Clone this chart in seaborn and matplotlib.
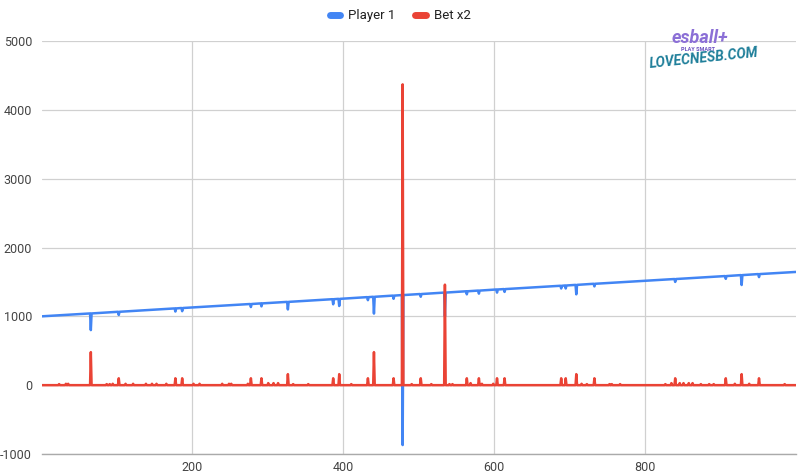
import matplotlib
matplotlib.use("Agg")
import matplotlib.pyplot as plt
from matplotlib.lines import Line2D
import seaborn as sns
import pandas as pd

# ---- data ----
series_names = ["Player 1", "Bet x2"]
colors = ["#4285F4", "#EA4335"]

# Bet x2 spikes: position and height (zero elsewhere)
bet_x = [24, 33, 36, 66, 87, 91, 95, 103, 112, 122, 139, 147, 153, 166, 178, 187,
         202, 210, 240, 249, 252, 274, 278, 292, 301, 308, 314, 327, 334, 354, 387,
         395, 411, 433, 441, 467, 479, 491, 503, 517, 535, 541, 545, 564, 569, 580,
         584, 599, 604, 614, 689, 695, 709, 716, 723, 733, 753, 756, 767, 827, 835,
         840, 846, 851, 858, 863, 874, 885, 891, 907, 919, 928, 938, 951, 985]
bet_v = [15, 20, 20, 480, 15, 15, 20, 100, 20, 20, 20, 20, 20, 20, 100, 100,
         20, 20, 20, 20, 20, 20, 100, 100, 30, 30, 30, 160, 15, 15, 100,
         160, 15, 100, 480, 100, 4370, 15, 100, 15, 1460, 15, 15, 100, 30, 100,
         20, 20, 100, 100, 100, 100, 160, 20, 15, 100, 15, 15, 15, 15, 30,
         100, 30, 30, 30, 30, 15, 15, 15, 100, 20, 160, 20, 100, 15]
bet_start, bet_end = 1, 1000

# Player 1: trend end points plus dips (level just before the dip, low point)
p1_start = (1, 1000)
p1_end = (1000, 1645)
dip_x = [66, 103, 178, 187, 278, 292, 327, 387, 395, 433, 441, 467, 479, 503,
         535, 564, 580, 604, 614, 689, 695, 709, 733, 840, 907, 928, 951]
dip_base = [1042, 1066, 1115, 1121, 1179, 1188, 1210, 1249, 1254, 1279, 1284, 1301,
            1309, 1324, 1345, 1364, 1374, 1390, 1396, 1444, 1448, 1457, 1473, 1542,
            1585, 1599, 1614]
dip_low = [800, 1020, 1070, 1075, 1135, 1145, 1100, 1175, 1150, 1235, 1040, 1255,
           -870, 1285, 1000, 1320, 1330, 1345, 1355, 1405, 1405, 1320, 1435, 1500,
           1545, 1455, 1570]

y_ticks = [-1000, 0, 1000, 2000, 3000, 4000, 5000]
x_ticks = [200, 400, 600, 800]

# ---- build long-form table ----
rows = []
rows.append((p1_start[0], p1_start[1], series_names[0]))
for x, b, lo in zip(dip_x, dip_base, dip_low):
    rows.append((x - 1, b, series_names[0]))
    rows.append((x, lo, series_names[0]))
    rows.append((x + 1, b, series_names[0]))
rows.append((p1_end[0], p1_end[1], series_names[0]))

rows.append((bet_start, 0, series_names[1]))
for x, v in zip(bet_x, bet_v):
    rows.append((x - 1, 0, series_names[1]))
    rows.append((x, v, series_names[1]))
    rows.append((x + 1, 0, series_names[1]))
rows.append((bet_end, 0, series_names[1]))
df = pd.DataFrame(rows, columns=["x", "value", "series"])

# ---- plot ----
sns.set_theme(style="white")
plt.rcParams["font.family"] = ["Roboto", "DejaVu Sans"]

fig = plt.figure(figsize=(8, 4.76), dpi=100)
ax = fig.add_axes([41.75 / 800, 1 - 454 / 476, (796 - 41.75) / 800, (454 - 41) / 476])

sns.lineplot(data=df, x="x", y="value", hue="series", hue_order=series_names,
             palette=colors, estimator=None, linewidth=1.8, ax=ax, legend=False)

ax.set_xlim(1, 1000)
ax.set_ylim(-1000, 5000)
ax.set_yticks(y_ticks)
ax.set_xticks(x_ticks)
ax.set_xticklabels([str(t) for t in x_ticks])
ax.set_yticklabels([str(t) for t in y_ticks])
ax.tick_params(axis="both", length=0, labelsize=9, labelcolor="#444444")
ax.tick_params(axis="y", pad=7)
ax.tick_params(axis="x", pad=5)
ax.grid(True, color="#d0d0d0", linewidth=0.9)
ax.set_axisbelow(True)
for s in ["top", "right", "left"]:
    ax.spines[s].set_visible(False)
ax.spines["bottom"].set_color("#aaaaaa")
ax.spines["bottom"].set_linewidth(1.0)
ax.set_xlabel("")
ax.set_ylabel("")

handles = [Line2D([0], [0], color=c, linewidth=5, solid_capstyle="round") for c in colors]
fig.legend(handles, series_names, loc="upper center", bbox_to_anchor=(0.5, 1.005),
           ncol=2, frameon=False, handlelength=0.8, columnspacing=1.5,
           handletextpad=0.6, fontsize=9.5, labelcolor="#222222")

# watermark text
fig.text(0.875, 0.92, "esball+", color="#8b6fd6", fontsize=13, fontweight="bold",
         style="italic", ha="center", va="center")
fig.text(0.872, 0.895, "PLAY SMART", color="#6a4fc0", fontsize=4, fontweight="bold",
         ha="center", va="center")
fig.text(0.88, 0.878, "LOVECNESB.COM", color="#1f7f9a", fontsize=10, fontweight="bold",
         style="italic", ha="center", va="center", rotation=6)

fig.savefig("out.png", dpi=100)
